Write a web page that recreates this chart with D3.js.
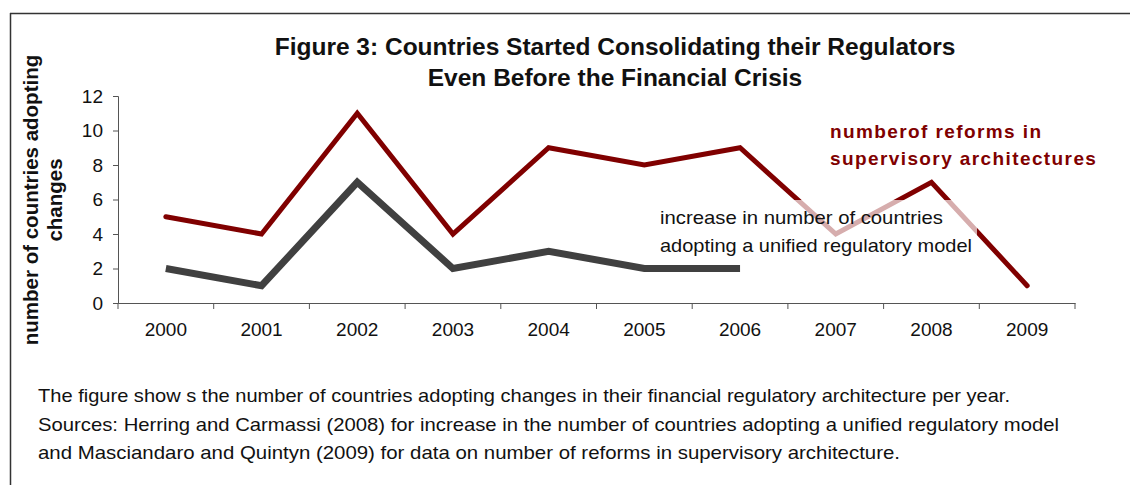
<!DOCTYPE html>
<html><head><meta charset="utf-8">
<script src="https://cdn.jsdelivr.net/npm/d3@7"></script>
<style>body{margin:0;background:#fff;} svg{display:block;font-family:Arial,"Liberation Sans",sans-serif;}</style>
</head><body>
<svg id="c" width="1130" height="485"></svg>
<script>
const years = ["2000","2001","2002","2003","2004","2005","2006","2007","2008","2009"];
const reforms = [5,4,11,4,9,8,9,4,7,1];
const unifiedYears = ["2000","2001","2002","2003","2004","2005","2006"];
const unified = [2,1,7,2,3,2,2];
const yTicks = [0,2,4,6,8,10,12];
const titleLines = ["Figure 3: Countries Started Consolidating their Regulators","Even Before the Financial Crisis"];
const yTitleLines = ["number of countries adopting","changes"];
const reformLabel = ["numberof reforms in","supervisory architectures"];
const unifiedLabel = ["increase in number of countries","adopting a unified regulatory model"];
const caption = ["The figure show s the number of countries adopting changes in their financial regulatory architecture per year.",
 "Sources: Herring and Carmassi (2008) for increase in the number of countries adopting a unified regulatory model",
 "and Masciandaro and Quintyn (2009) for data on number of reforms in supervisory architecture."];

const svg = d3.select("#c");
// frame
svg.append("line").attr("x1",10).attr("x2",1130).attr("y1",13.5).attr("y2",13.5).attr("stroke","#333").attr("stroke-width",1.5);
svg.append("line").attr("x1",10.5).attr("x2",10.5).attr("y1",13).attr("y2",485).attr("stroke","#333").attr("stroke-width",1.5);

const x = d3.scaleBand().domain(years).range([118,1075]);
const y = d3.scaleLinear().domain([0,12]).range([303,96]);
const cx = d => x(d)+x.bandwidth()/2;

// axes
const yAxis = svg.append("g").attr("transform","translate(118,0)")
  .call(d3.axisLeft(y).tickValues(yTicks).tickSize(5).tickPadding(10));
yAxis.select(".domain").attr("stroke","#555");
yAxis.selectAll(".tick line").attr("stroke","#555");
yAxis.selectAll("text").attr("font-size",19).attr("fill","#111").attr("font-family","Arial,'Liberation Sans',sans-serif");

const xAxis = svg.append("g").attr("transform","translate(0,303)")
  .call(d3.axisBottom(x).tickSize(0).tickPadding(20));
xAxis.select(".domain").attr("stroke","#555");
xAxis.selectAll(".tick line").remove();
xAxis.selectAll("text").attr("font-size",19).attr("fill","#111").attr("font-family","Arial,'Liberation Sans',sans-serif");
// boundary ticks between categories
svg.append("g").selectAll("line").data(years.concat(["end"])).join("line")
  .attr("x1",(d,i)=> i<years.length ? x(d) : x(years[years.length-1])+x.bandwidth())
  .attr("x2",(d,i)=> i<years.length ? x(d) : x(years[years.length-1])+x.bandwidth())
  .attr("y1",303).attr("y2",309).attr("stroke","#555");

// lines
const line = d3.line().x(d=>cx(d[0])).y(d=>y(d[1]));
svg.append("path").datum(unifiedYears.map((d,i)=>[d,unified[i]]))
  .attr("d",line).attr("fill","none").attr("stroke","#404040").attr("stroke-width",7).attr("stroke-linejoin","miter");
svg.append("path").datum(years.map((d,i)=>[d,reforms[i]]))
  .attr("d",line).attr("fill","none").attr("stroke","#800000").attr("stroke-width",5).attr("stroke-linejoin","miter").attr("stroke-linecap","round");

// translucent label box
svg.append("rect").attr("x",650).attr("y",200).attr("width",327).attr("height",62).attr("fill","#fff").attr("opacity",0.68);

// title
svg.append("g").selectAll("text").data(titleLines).join("text")
  .attr("x",615).attr("y",(d,i)=>55+i*31).attr("text-anchor","middle")
  .attr("font-size",24.5).attr("font-weight","bold").attr("fill","#111").text(d=>d);

// y title
svg.append("g").attr("transform","translate(0,200) rotate(-90)").selectAll("text").data(yTitleLines).join("text")
  .attr("x",0).attr("y",(d,i)=>38+i*24).attr("text-anchor","middle")
  .attr("font-size",20.5).attr("font-weight","bold").attr("fill","#111").text(d=>d);

// reform label
svg.append("g").selectAll("text").data(reformLabel).join("text")
  .attr("x",830).attr("y",(d,i)=>138+i*27).attr("font-size",19).attr("font-weight","bold")
  .attr("letter-spacing",1.4).attr("fill","#800000").text(d=>d);

// unified label
const ulEnds = [943,972];
svg.append("g").selectAll("text").data(unifiedLabel).join("text")
  .attr("x",660).attr("y",(d,i)=>224+i*28).attr("font-size",18.5).attr("fill","#111")
  .attr("textLength",(d,i)=>ulEnds[i]-660).attr("lengthAdjust","spacingAndGlyphs").text(d=>d);

// caption
const capEnds = [1010,1059,900];
svg.append("g").selectAll("text").data(caption).join("text")
  .attr("x",38).attr("y",(d,i)=>402+i*28.5).attr("font-size",19).attr("fill","#111")
  .attr("textLength",(d,i)=>capEnds[i]-38).attr("lengthAdjust","spacingAndGlyphs").text(d=>d);
</script>
</body></html>
